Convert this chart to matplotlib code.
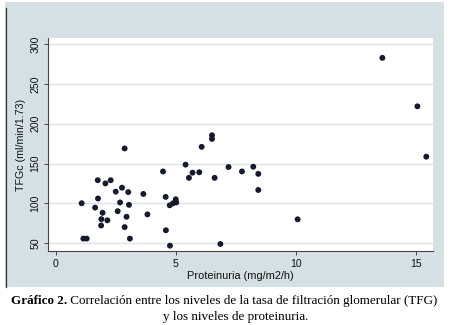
import matplotlib
matplotlib.use("Agg")
import matplotlib.pyplot as plt
from matplotlib.patches import Rectangle
from matplotlib.lines import Line2D

# Data
proteinuria = [1.07, 1.14, 1.28, 1.63, 1.74, 1.75, 1.88, 1.89, 1.94, 2.06,
               2.14, 2.28, 2.49, 2.57, 2.67, 2.75, 2.86, 2.86, 2.94, 3.01,
               3.04, 3.08, 3.64, 3.81, 4.46, 4.57, 4.58, 4.74, 4.75, 4.88,
               4.99, 5.01, 5.40, 5.54, 5.69, 5.97, 6.07, 6.50, 6.50, 6.61,
               6.85, 7.19, 7.75, 8.22, 8.43, 8.43, 10.07, 13.6, 15.06, 15.43]
tfgc = [100, 55.5, 55.5, 94.5, 129, 106, 72, 80, 88, 125,
        78.5, 129, 114.6, 90, 101, 119.6, 169, 70, 83, 114,
        98, 55.5, 111.7, 86, 140, 108, 66, 97.4, 46.6, 100,
        105, 101, 148.6, 132, 138.5, 139, 171, 185.5, 181, 132,
        48.7, 145.6, 140, 146, 137, 116.7, 79.8, 283, 222, 158.6]

xticks = [0, 5, 10, 15]
yticks = [50, 100, 150, 200, 250, 300]
xlabel = "Proteinuria (mg/m2/h)"
ylabel = "TFGc (ml/min/1.73)"
caption_bold = "Gráfico 2."
caption_rest = " Correlación entre los niveles de la tasa de filtración glomerular (TFG)"
caption_line2 = "y los niveles de proteinuria."

W, H = 453, 325
fig = plt.figure(figsize=(W / 100, H / 100), dpi=100)
fig.patch.set_facecolor("white")

def fx(px):
    return px / W

def fy(py):
    return (H - py) / H

# Stata-like panel background
panel_col = "#d5e0e5"
fig.patches.append(Rectangle((fx(5), fy(287)), fx(444) - fx(5), fy(2) - fy(287),
                             transform=fig.transFigure, facecolor=panel_col,
                             edgecolor="none", zorder=-2))
fig.lines.append(Line2D([fx(5.5), fx(5.5)], [fy(287), fy(8)], transform=fig.transFigure,
                        color="#333333", linewidth=0.9, zorder=-1))

ax = fig.add_axes([fx(48), fy(251), fx(433) - fx(48), fy(38) - fy(251)])
ax.set_zorder(1)
ax.set_facecolor("white")
ax.set_xlim(-0.333, 15.71)
ax.set_ylim(39.9, 308)

ax.scatter(proteinuria, tfgc, s=18, color="#151a2c", edgecolors="none", zorder=3)

ax.set_xticks(xticks)
ax.set_yticks(yticks)
ax.yaxis.grid(True, color="#dde3e6", linewidth=1.0)
ax.xaxis.grid(False)
ax.set_axisbelow(True)

for s in ["top", "right"]:
    ax.spines[s].set_visible(False)
for s in ["left", "bottom"]:
    ax.spines[s].set_color("#444444")
    ax.spines[s].set_linewidth(0.8)

font = ["Liberation Sans", "DejaVu Sans"]
ax.tick_params(axis="both", direction="out", length=3, width=0.7, color="#444444",
               labelsize=7.6, labelcolor="#111111", pad=2.5)
for lab in ax.get_yticklabels():
    lab.set_rotation(90)
    lab.set_va("center")
    lab.set_family(font)
for lab in ax.get_xticklabels():
    lab.set_family(font)

ax.set_xlabel(xlabel, fontsize=7.9, family=font, color="#111111", labelpad=2)
ax.set_ylabel(ylabel, fontsize=7.7, family=font, color="#111111", labelpad=3)

# Caption
serif = ["Liberation Serif", "DejaVu Serif"]
cap_size = 9.45
fig.canvas.draw()
r = fig.canvas.get_renderer()
tb = fig.text(0, 0, caption_bold, fontsize=cap_size, family=serif, weight="bold")
tr = fig.text(0, 0, caption_rest, fontsize=cap_size, family=serif)
wb = tb.get_window_extent(r).width
wr = tr.get_window_extent(r).width
total = wb + wr
x0 = 224.5 - total / 2
tb.set_position((fx(x0), fy(301)))
tb.set_va("center")
tr.set_position((fx(x0 + wb), fy(301)))
tr.set_va("center")
fig.text(fx(236), fy(317), caption_line2, fontsize=cap_size, family=serif,
         ha="center", va="center")

fig.savefig("out.png", dpi=100, facecolor="white")
